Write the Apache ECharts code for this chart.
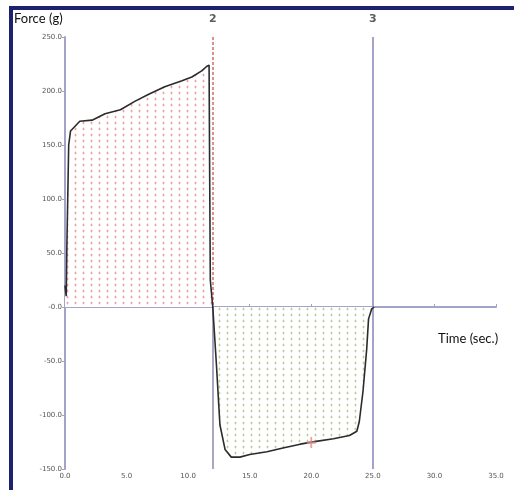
<!DOCTYPE html>
<html>
<head>
<meta charset="utf-8">
<script src="https://cdn.jsdelivr.net/npm/echarts@6/dist/echarts.min.js"></script>
<style>html,body{margin:0;padding:0;background:#fff;}#c{width:514px;height:490px;}</style>
</head>
<body>
<div id="c"></div>
<script>
// ---- data ----
var timeSec = [0, 0.1, 0.15, 0.3, 0.45, 1.2, 2.2, 3.25, 4.5, 5.7, 6.8, 8.1, 9.5, 10.3, 11.1, 11.5, 11.7, 11.75, 11.8, 12.0, 12.3, 12.58, 13.0, 13.5, 14.2, 15.0, 16.4, 17.7, 19.1, 20.4, 21.8, 23.1, 23.7, 23.9, 24.2, 24.5, 24.65, 24.9, 25.1];
var forceG  = [20, 10, 55, 150, 163, 172, 173, 179, 182.6, 190.6, 197, 204, 209.6, 213, 218.7, 222.7, 224, 120, 25, 0, -54, -109, -132, -139, -139, -136.6, -134, -130.5, -127, -124.4, -122, -119, -115, -106, -78, -39, -11, -2, 0];
var markerTimes  = [12.0, 25.0];
var markerLabels = ['2', '3'];
var cursorTime = [20.0];
var cursorForce = [-125.5];
var xTickValues = [0, 5, 10, 15, 20, 25, 30, 35];
var xTickLabels = ['0.0', '5.0', '10.0', '15.0', '20.0', '25.0', '30.0', '35.0'];
var yTickValues = [-150, -100, -50, 0, 50, 100, 150, 200, 250];
var yTickLabels = ['-150.0', '-100.0', '-50.0', '-0.0', '50.0', '100.0', '150.0', '200.0', '250.0'];

// ---- build series data ----
var allPts = timeSec.map(function (t, i) { return [t, forceG[i]]; });
var posPts = allPts.filter(function (p) { return p[0] <= markerTimes[0]; });
var negPts = allPts.filter(function (p) { return p[0] >= markerTimes[0]; });

function makePattern(color, faint) {
  var c = document.createElement('canvas');
  c.width = 8; c.height = 6;
  var g = c.getContext('2d');
  g.fillStyle = '#ffffff';
  g.fillRect(0, 0, 8, 6);
  g.fillStyle = faint;
  g.fillRect(2, 2, 3, 2);
  g.fillRect(3, 1, 1, 4);
  g.fillStyle = color;
  g.fillRect(3, 2, 1, 2);
  return c;
}
var redPat = makePattern('#eba3a3', '#f8e0e0');
var greenPat = makePattern('#bccd9a', '#e9efdc');

function lbl(vals, labels) {
  return function (v) {
    for (var i = 0; i < vals.length; i++) if (Math.abs(vals[i] - v) < 1e-6) return labels[i];
    return '';
  };
}

var chart = echarts.init(document.getElementById('c'), null, { renderer: 'canvas' });
var axisColor = '#a3a3c9';
var option = {
  animation: false,
  backgroundColor: '#ffffff',
  grid: { left: 65, right: 18, top: 37, bottom: 21, containLabel: false },
  xAxis: {
    type: 'value', min: 0, max: 35, interval: 5,
    axisLine: { onZero: true, lineStyle: { color: axisColor, width: 2 } },
    axisTick: { show: true, inside: true, length: 3, lineStyle: { color: axisColor } },
    axisLabel: { formatter: lbl(xTickValues, xTickLabels), fontSize: 7, color: '#555', margin: 4, fontFamily: 'DejaVu Sans' },
    splitLine: { show: false }
  },
  yAxis: {
    type: 'value', min: -150, max: 250, interval: 50,
    axisLine: { show: true, lineStyle: { color: axisColor, width: 2 } },
    axisTick: { show: true, length: 3, lineStyle: { color: axisColor } },
    axisLabel: { formatter: lbl(yTickValues, yTickLabels), fontSize: 7, color: '#555', margin: 3, fontFamily: 'DejaVu Sans' },
    splitLine: { show: false }
  },
  series: [
    {
      type: 'line', data: posPts, symbol: 'none', silent: true,
      lineStyle: { width: 0 },
      areaStyle: { color: { image: redPat, repeat: 'repeat' }, opacity: 1 },
      z: 1
    },
    {
      type: 'line', data: negPts, symbol: 'none', silent: true,
      lineStyle: { width: 0 },
      areaStyle: { color: { image: greenPat, repeat: 'repeat' }, opacity: 1 },
      z: 1
    },
    {
      type: 'line', data: allPts, symbol: 'none', silent: true,
      lineStyle: { color: '#2b2b2b', width: 1.6 },
      z: 5,
      markLine: {
        silent: true, symbol: ['none', 'none'],
        label: { show: false },
        data: [
          [{ coord: [markerTimes[0], 250], lineStyle: { color: '#d46a6a', type: [3, 2], width: 1.5 } }, { coord: [markerTimes[0], 0] }],
          [{ coord: [markerTimes[0], 0], lineStyle: { color: '#a8a8c0', type: 'solid', width: 2 } }, { coord: [markerTimes[0], -150] }],
          [{ coord: [markerTimes[1], 250], lineStyle: { color: '#a3a3c9', type: 'solid', width: 2 } }, { coord: [markerTimes[1], -150] }]
        ]
      }
    },
    {
      type: 'scatter', silent: true, z: 6,
      data: cursorTime.map(function (t, i) { return [t, cursorForce[i]]; }),
      symbol: 'path://M4,0 L6,0 L6,4 L10,4 L10,6 L6,6 L6,10 L4,10 L4,6 L0,6 L0,4 L4,4 Z',
      symbolSize: [9, 11],
      itemStyle: { color: '#e08a8a' }
    },
    {
      type: 'scatter', silent: true, z: 6, symbolSize: 0,
      data: markerTimes.map(function (t, i) { return { value: [t, 250], name: markerLabels[i] }; }),
      label: { show: true, position: 'top', distance: 12, formatter: '{b}', fontSize: 11, fontWeight: 'bold', color: '#333', fontFamily: 'DejaVu Sans' }
    }
  ],
  graphic: [
    { type: 'rect', shape: { x: 9, y: 6, width: 505, height: 4 }, style: { fill: '#1c2170' }, z: 100 },
    { type: 'rect', shape: { x: 9, y: 6, width: 4, height: 484 }, style: { fill: '#1c2170' }, z: 100 },
    { type: 'text', left: 14, top: 12, style: { text: 'Force (g)', fontSize: 13, fill: '#111', fontFamily: 'Lato', backgroundColor: '#fff' }, z: 100 },
    { type: 'text', left: 438, top: 332, style: { text: 'Time (sec.)', fontSize: 13, fill: '#111', fontFamily: 'Lato' }, z: 100 }
  ]
};
chart.setOption(option);
</script>
</body>
</html>
